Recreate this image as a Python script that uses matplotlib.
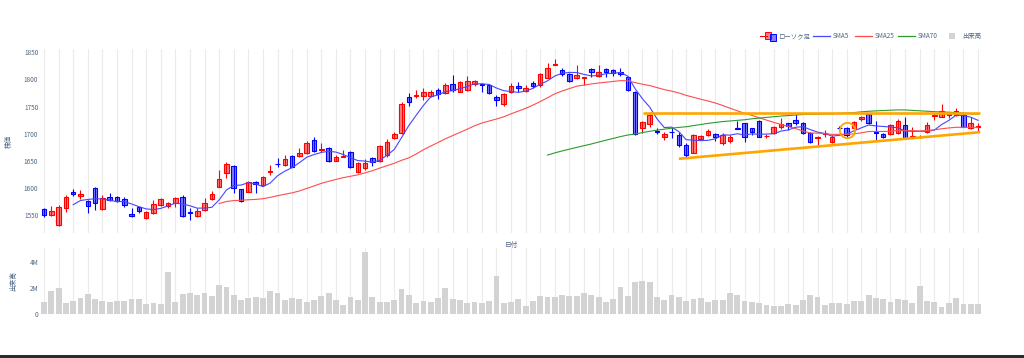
import numpy as np
import pandas as pd
import matplotlib
matplotlib.use("Agg")
import matplotlib.pyplot as plt
from matplotlib.lines import Line2D
from matplotlib.patches import Rectangle

plt.rcParams['font.family'] = ['Noto Sans CJK JP', 'DejaVu Sans']

# --- OHLC ---
opens = [1561, 1550.5, 1532, 1563, 1592.5, 1585.5, 1576.3, 1600.9, 1561, 1583,
         1584.3, 1580, 1552.4, 1564.7, 1544.4, 1554.8, 1569, 1567.7, 1572, 1584.3,
         1556, 1549.3, 1559, 1579.4, 1602.7, 1628.4, 1640.7, 1597.8, 1593.5, 1611.9,
         1605.7, 1630.3, 1645, 1642.5, 1659.7, 1659.7, 1664, 1688.6, 1670, 1673.2,
         1650.5, 1658, 1665.9, 1630.3, 1636.4, 1654.8, 1649.9, 1660.9, 1692.8, 1700.8,
         1768.3, 1770, 1770.1, 1770.1, 1780, 1774.4, 1791, 1777.5, 1780.6, 1791,
         1792, 1789.8, 1768.3, 1754.2, 1776.3, 1788.6, 1778.7, 1792.8, 1789.8, 1803.3,
         1827, 1816.8, 1809.4, 1802.1, 1802.8, 1819.2, 1807, 1819.2, 1818, 1814.3,
         1805.1, 1777.5, 1711.3, 1717.4, 1705.4, 1693.5, 1704, 1697.8, 1679.4, 1665.3,
         1689.8, 1697.8, 1699.6, 1682.4, 1687.3, 1710, 1719.2, 1710, 1724.2, 1695.4,
         1700.8, 1711.9, 1719.2, 1725.4, 1720.5, 1702.1, 1692.5, 1700, 1685.5, 1711,
         1711.3, 1710, 1728, 1736.4, 1703, 1699.6, 1699.6, 1700.8, 1716.2, 1695,
         1693.5, 1703.9, 1733, 1731.5, 1734, 1734.6, 1734.6, 1710, 1712.5]
highs = [1563, 1568, 1569, 1587, 1597.8, 1596.6, 1578, 1602.7, 1587.4, 1591.7,
         1585.5, 1584.3, 1562.8, 1566, 1558.5, 1578.2, 1581.2, 1575, 1584.3, 1586.7,
         1562.8, 1563, 1581, 1595, 1633.3, 1647.5, 1642.5, 1599, 1613.7, 1613,
         1622.3, 1642.5, 1654.8, 1661, 1661, 1673.2, 1687.3, 1694.7, 1682.4, 1675,
         1661, 1670.2, 1668.3, 1648.7, 1653.6, 1657.9, 1679.3, 1689.8, 1702.7, 1757.9,
         1774.4, 1780.6, 1783.7, 1780.6, 1784.9, 1792.8, 1808.2, 1797.1, 1807, 1799,
         1792.8, 1791.6, 1771.4, 1774.4, 1792.8, 1795.9, 1789.8, 1797.1, 1811.3, 1829.7,
         1837.6, 1820.5, 1811.3, 1826.6, 1804, 1820.5, 1826.6, 1821.7, 1819.2, 1821.7,
         1807, 1778.7, 1723.5, 1740.7, 1710, 1703.9, 1712, 1703.9, 1682.4, 1699.6,
         1697.8, 1708.2, 1700.8, 1700.8, 1697.8, 1724.2, 1720.5, 1711.3, 1725.4, 1699.6,
         1714.3, 1728.4, 1720.5, 1736.4, 1722.3, 1703.9, 1695.9, 1707, 1697.8, 1714.3,
         1713.1, 1724.2, 1733, 1737.7, 1724.2, 1700.8, 1718, 1726.6, 1730.3, 1713.1,
         1697.8, 1722.3, 1737.7, 1754.8, 1740.7, 1746.9, 1737.7, 1730.3, 1719.2]
lows = [1547.5, 1549, 1531, 1556.7, 1585.5, 1579.4, 1555, 1559.8, 1559.8, 1577,
        1575, 1565.9, 1546.3, 1553.6, 1543.2, 1552.4, 1567.7, 1562.8, 1564.7, 1547.5,
        1541.4, 1547, 1557, 1578, 1601.4, 1619.5, 1591, 1575, 1592.2, 1590.4,
        1603.9, 1624.1, 1638.3, 1640.7, 1638.3, 1657.9, 1662.8, 1667.1, 1667, 1648.7,
        1649.3, 1656.7, 1637.6, 1627.2, 1633.3, 1641.3, 1648.7, 1657.9, 1690.4, 1699,
        1751.7, 1765, 1762.2, 1768.3, 1764, 1772.6, 1777.5, 1776.3, 1778.7, 1788.6,
        1777.5, 1772.6, 1751.7, 1751.7, 1774.4, 1777.5, 1776.3, 1783.7, 1786.7, 1802.1,
        1826, 1806.9, 1795.9, 1800.8, 1789.8, 1805, 1805.1, 1805.1, 1807, 1807,
        1778.7, 1697.8, 1700.8, 1713.1, 1699.6, 1688.6, 1692, 1676.3, 1656.7, 1664,
        1688.6, 1695.9, 1687.3, 1679.4, 1682.4, 1708.2, 1685.5, 1697.8, 1693.5, 1691.6,
        1699.6, 1708.2, 1707, 1716.2, 1699.6, 1683.7, 1679.4, 1694.7, 1683.7, 1707,
        1694.7, 1708.2, 1724, 1718, 1687.3, 1691.6, 1697.8, 1699.6, 1689.8, 1691.6,
        1691.6, 1702.1, 1725.4, 1730.3, 1728.4, 1732.7, 1711.9, 1708.2, 1703.9]
closes = [1550.5, 1558, 1564.7, 1584.3, 1590, 1589, 1567.7, 1572, 1581.2, 1578.2,
          1576.3, 1569, 1549.3, 1557.3, 1556.7, 1570.2, 1580, 1572, 1582.4, 1549.3,
          1554, 1557.9, 1573, 1589.2, 1617.5, 1645, 1599.6, 1576.9, 1610.6, 1606.9,
          1619.8, 1632.3, 1644, 1653, 1639.5, 1665.3, 1682.4, 1668.9, 1672, 1650.5,
          1657.9, 1660, 1639.5, 1645.6, 1645.6, 1647.5, 1678.1, 1685.5, 1699, 1754.8,
          1759.1, 1772, 1776.3, 1777.5, 1772.6, 1789.8, 1780.6, 1794.7, 1797.1, 1797.1,
          1790.5, 1774.4, 1762.2, 1772.6, 1788.6, 1783.7, 1784.9, 1788.6, 1809.4, 1820.5,
          1828.5, 1809.4, 1797.1, 1808.2, 1803.4, 1814.3, 1814.3, 1813.1, 1811.9, 1810.6,
          1780.6, 1699, 1721.1, 1734.6, 1703, 1699.6, 1703, 1679.4, 1661, 1697.8,
          1695.9, 1705.7, 1693.5, 1697.8, 1694.7, 1709, 1693.5, 1703.9, 1694.7, 1696.5,
          1711.9, 1718, 1714.3, 1719.2, 1702.1, 1685.5, 1694.5, 1701.5, 1694.7, 1710,
          1697.8, 1722.3, 1730, 1720.5, 1701.5, 1693.5, 1716.2, 1724.2, 1691.6, 1696.5,
          1694.5, 1716.2, 1734.6, 1742.6, 1735.5, 1742.6, 1713.1, 1719.2, 1713.5]
# volume in millions of shares
volume_m = [0.92, 1.78, 2.04, 0.87, 1.04, 1.25, 1.58, 1.17, 1.02, 0.94,
            1.04, 0.99, 1.17, 1.17, 0.76, 0.84, 0.82, 3.29, 0.97, 1.58,
            1.61, 1.48, 1.61, 1.43, 2.24, 2.09, 1.45, 1.10, 1.22, 1.35,
            1.22, 1.83, 1.66, 1.10, 1.27, 1.17, 0.97, 1.10, 1.40, 1.61,
            1.07, 0.74, 1.32, 1.12, 4.79, 1.32, 0.92, 0.94, 1.07, 1.94,
            1.48, 0.89, 1.04, 0.97, 1.25, 1.99, 1.20, 1.07, 0.87, 0.94,
            0.89, 0.99, 2.96, 0.89, 0.94, 1.15, 0.66, 1.02, 1.43, 1.32,
            1.35, 1.50, 1.40, 1.43, 1.63, 1.45, 1.32, 0.94, 1.15, 2.09,
            1.40, 2.45, 2.57, 2.47, 1.35, 1.12, 1.48, 1.32, 1.04, 1.20,
            1.22, 0.97, 1.07, 1.07, 1.63, 1.48, 1.02, 0.97, 0.87, 0.71,
            0.64, 0.66, 0.76, 0.74, 1.07, 1.45, 1.32, 0.71, 0.89, 0.87,
            0.82, 1.04, 1.04, 1.48, 1.25, 1.17, 0.94, 1.17, 1.10, 0.87,
            2.14, 1.02, 0.94, 0.59, 0.89, 1.27, 0.82, 0.82, 0.82]

# hand-drawn annotations (candle index, price)
resist_x = [82.1, 128.3]; resist_y = [1738, 1738]
support_x = [87.0, 128.3]; support_y = [1654, 1703]
circle_x = 110; circle_y = 1707

df = pd.DataFrame({"o": opens, "h": highs, "l": lows, "c": closes, "v": np.array(volume_m) * 1e6})
n = len(df)
xs = np.arange(n)
sma5 = df["c"].rolling(5).mean()
sma25 = df["c"].rolling(25).mean()
sma70 = df["c"].rolling(70).mean()

W, H = 1024, 358
fig = plt.figure(figsize=(W / 100, H / 100), dpi=100)
def fx(p): return p / W
def fy(p): return 1 - p / H

left, right = 40.35, 981.7
ax = fig.add_axes([fx(left), fy(233), fx(right - left), fy(49.3) - fy(233)])
axv = fig.add_axes([fx(left), fy(314.3), fx(right - left), fy(248.3) - fy(314.3)])

TXT = "#506784"
GRID = "#ebebeb"
for a in (ax, axv):
    a.set_xlim(-0.5, n - 0.5)
    a.set_xticks(np.arange(0, n, 2))
    a.grid(axis="x", color=GRID, linewidth=0.8, zorder=0)
    a.tick_params(axis="x", length=0, labelbottom=False)
    a.tick_params(axis="y", length=0, labelsize=4.6, labelcolor=TXT, pad=1.5)
    for s in a.spines.values():
        s.set_visible(False)
    a.set_axisbelow(True)

# candles
up = df["c"] >= df["o"]
for mask, col, fc in [(up, "#ff0000", (1, 0, 0, 0.5)), (~up, "#0000ff", (0, 0, 1, 0.5))]:
    d = df[mask]
    xi = xs[mask.values]
    ax.vlines(xi, d["l"], d["h"], color=col, linewidth=0.8, zorder=3)
    body = (d["c"] - d["o"]).abs().clip(lower=0.9)
    ax.bar(xi, body, bottom=np.minimum(d["o"], d["c"]), width=0.62,
           facecolor=fc, edgecolor=col, linewidth=0.8, zorder=4)

ax.plot(xs, sma5, color="#4646ff", linewidth=0.8, zorder=5)
ax.plot(xs, sma25, color="#ff4c4c", linewidth=0.8, zorder=5)
ax.plot(xs, sma70, color="#2e9a2e", linewidth=0.8, zorder=5)

ax.plot(resist_x, resist_y, color="#ffa500", linewidth=1.9, solid_capstyle="butt", zorder=6)
ax.plot(support_x, support_y, color="#ffa500", linewidth=1.9, solid_capstyle="butt", zorder=6)
ax.plot([circle_x], [circle_y], marker="o", markersize=11, markerfacecolor="none",
        markeredgecolor="#ffa500", markeredgewidth=1.3, zorder=7)

ax.set_ylim(1517.4, 1855.5)
ax.set_yticks([1550, 1600, 1650, 1700, 1750, 1800, 1850])
ax.set_ylabel("株価", fontsize=4.8, color=TXT, labelpad=8)
fig.text(fx(512), fy(245), "日付", fontsize=4.8, color=TXT, ha="center", va="center")

axv.bar(xs, df["v"], width=0.8, color="#d3d3d3", zorder=2)
axv.set_ylim(0, 5.08e6)
axv.set_yticks([0, 2e6, 4e6])
axv.set_yticklabels(["0", "2M", "4M"])
axv.set_ylabel("出来高", fontsize=4.8, color=TXT, labelpad=9)

# legend row (top right)
ly = fy(36)
fig.add_artist(Line2D([fx(760), fx(767)], [ly, ly], color="#ff0000", linewidth=0.8,
                      transform=fig.transFigure))
fig.add_artist(Rectangle((fx(765), fy(39)), fx(6), fy(32) - fy(39), facecolor=(1, 0, 0, 0.5),
                         edgecolor="#ff0000", linewidth=0.7, transform=fig.transFigure))
fig.add_artist(Rectangle((fx(770), fy(41)), fx(6), fy(34) - fy(41), facecolor=(0, 0, 1, 0.5),
                         edgecolor="#0000ff", linewidth=0.7, transform=fig.transFigure))
fig.text(fx(778), ly, "ローソク足", fontsize=4.6, color=TXT, va="center")
for x0, col, lab in [(813, "#4646ff", "SMA5"), (855, "#ff4c4c", "SMA25"), (898, "#2e9a2e", "SMA70")]:
    fig.add_artist(Line2D([fx(x0), fx(x0 + 17)], [ly, ly], color=col, linewidth=0.9,
                          transform=fig.transFigure))
    fig.text(fx(x0 + 20), ly, lab, fontsize=4.6, color=TXT, va="center")
fig.add_artist(Rectangle((fx(949), fy(39)), fx(5.5), fy(33) - fy(39), facecolor="#d3d3d3",
                         edgecolor="none", transform=fig.transFigure))
fig.text(fx(962), ly, "出来高", fontsize=4.6, color=TXT, va="center")

# dark strip at the bottom of the screenshot
fig.add_artist(Rectangle((0, 0), 1, fy(355), facecolor="#2b2b2b", edgecolor="none",
                         transform=fig.transFigure))

fig.savefig("out.png", dpi=100)
